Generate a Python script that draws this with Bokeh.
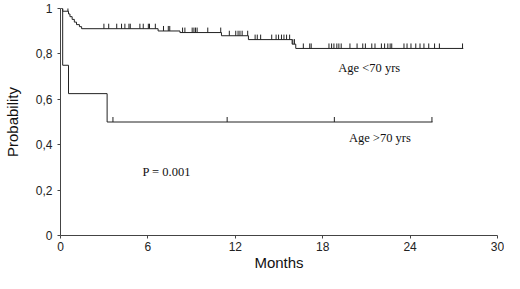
import numpy as np
from bokeh.plotting import figure
from bokeh.models import FixedTicker, Label
from bokeh.embed import file_html
from bokeh.resources import INLINE

# Age <70 yrs: event times (months) and survival after each event
young_times = [0.0, 0.15, 0.55, 0.65, 0.8, 0.95, 1.1, 1.3, 1.45, 6.7, 8.2, 11.05, 12.9, 15.9, 16.15]
young_surv = [1.0, 0.988, 0.976, 0.964, 0.952, 0.940, 0.929, 0.920, 0.911, 0.901, 0.894, 0.880, 0.863, 0.843, 0.824]
young_end = 27.65
young_censor = [0.51, 2.98, 3.31, 3.86, 4.19, 4.42, 4.70, 4.79, 5.45, 5.68, 6.03, 6.11, 6.51,
                7.07, 7.40, 7.50, 8.38, 8.54, 9.04, 9.16, 9.27, 9.38, 10.11, 11.0, 11.59,
                12.03, 12.19, 12.32, 12.47, 12.85, 13.36, 13.51, 13.74, 14.50, 14.80, 14.97,
                15.17, 15.34, 15.52, 15.73, 15.95, 16.06, 16.67, 17.11, 17.21, 18.43, 18.61,
                18.77, 18.97, 19.11, 19.27, 19.87, 20.36, 20.75, 20.93, 21.37, 21.59, 22.03,
                22.25, 22.47, 22.63, 22.74, 23.58, 23.79, 24.06, 24.39, 24.68, 24.95, 25.28,
                25.68, 26.01, 27.6]

# Age >70 yrs
old_times = [0.0, 0.15, 0.55, 3.2]
old_surv = [1.0, 0.75, 0.625, 0.5]
old_end = 25.54
old_censor = [3.6, 11.44, 18.8, 25.5]

x_ticks = [0, 6, 12, 18, 24, 30]
y_ticks = [0, 0.2, 0.4, 0.6, 0.8, 1.0]
y_tick_labels = {0: "0", 0.2: "0,2", 0.4: "0,4", 0.6: "0,6", 0.8: "0,8", 1.0: "1"}

p = figure(width=504, height=273, output_backend="svg", toolbar_location=None,
           x_range=(0, 30), y_range=(0, 1.0),
           min_border_left=60, min_border_right=7, min_border_top=8, min_border_bottom=35)
p.outline_line_color = None
p.grid.visible = False
p.background_fill_color = "white"
p.border_fill_color = "white"

def surv_at(times, surv, t):
    idx = np.searchsorted(np.array(times), np.array(t), side="right") - 1
    return np.array(surv)[idx]

def draw(times, surv, end, censor):
    xs = list(times) + [end]
    ys = list(surv) + [surv[-1]]
    p.step(xs, ys, mode="after", line_color="#222222", line_width=1)
    cy = surv_at(times, surv, censor)
    p.segment(x0=censor, y0=cy, x1=censor, y1=cy + 0.022, line_color="#222222", line_width=1)

draw(young_times, young_surv, young_end, young_censor)
draw(old_times, old_surv, old_end, old_censor)

for ax in (p.xaxis[0], p.yaxis[0]):
    ax.axis_line_color = "#444444"
    ax.major_tick_line_color = "#444444"
    ax.major_tick_out = 3
    ax.major_tick_in = 0
    ax.minor_tick_line_color = None
    ax.major_label_text_font = "Liberation Sans"
    ax.major_label_text_font_size = "12px"
    ax.major_label_text_color = "#222222"
    ax.axis_label_text_font = "Liberation Sans"
    ax.axis_label_text_font_style = "normal"
    ax.axis_label_text_color = "#111111"

p.xaxis.ticker = FixedTicker(ticks=x_ticks)
p.yaxis.ticker = FixedTicker(ticks=y_ticks)
p.yaxis.major_label_overrides = y_tick_labels
p.xaxis.axis_label = "Months"
p.yaxis.axis_label = "Probability"
p.xaxis.axis_label_text_font_size = "15px"
p.yaxis.axis_label_text_font_size = "15px"
p.xaxis.major_label_standoff = 3
p.xaxis.axis_label_standoff = 0
p.yaxis.major_label_standoff = 5
p.yaxis.axis_label_standoff = 12

for txt, x, y in [("Age <70 yrs", 19.07, 0.736), ("Age >70 yrs", 19.8, 0.431), ("P = 0.001", 5.63, 0.28)]:
    p.add_layout(Label(x=x, y=y, text=txt, text_font="Liberation Serif", text_font_size="12.5px",
                       text_color="#111111", text_baseline="middle"))

open("out.html", "w").write(file_html(p, INLINE))
